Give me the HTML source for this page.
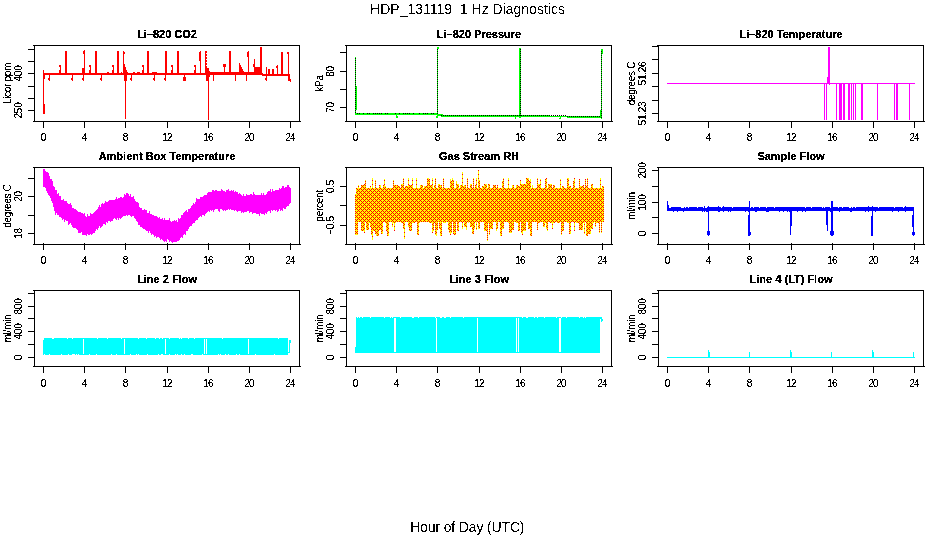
<!DOCTYPE html>
<html lang="en"><head><meta charset="utf-8"><title>HDP_131119 1 Hz Diagnostics</title>
<style>
html,body{margin:0;padding:0;background:#fff;}
body{width:936px;height:540px;overflow:hidden;}
svg{display:block;}
text{font-family:"Liberation Sans", "DejaVu Sans", sans-serif;fill:#000;}
.t{font-size:10px;letter-spacing:-0.3px;}
.h{font-size:11px;font-weight:bold;}
.m{font-size:14px;}
</style></head><body>
<svg width="936" height="540" viewBox="0 0 936 540">
<defs><pattern id="rh" x="0" y="0" width="4" height="4" patternUnits="userSpaceOnUse"><rect width="4" height="4" fill="#ffff00"/><path fill="#ff0000" d="M0 0h1v1h-1zM2 2h1v1h-1zM1 1h1v1h-1zM3 3h1v1h-1zM1 3h1v1h-1zM3 1h1v1h-1z"/></pattern></defs>
<defs><filter id="bw" x="0" y="0" width="100%" height="100%" filterUnits="userSpaceOnUse" color-interpolation-filters="sRGB"><feComponentTransfer><feFuncA type="discrete" tableValues="0 0 1 1 1"/></feComponentTransfer></filter></defs>
<rect width="936" height="540" fill="#fff"/>
<defs><filter id="bw2" x="0" y="0" width="100%" height="100%" filterUnits="userSpaceOnUse" color-interpolation-filters="sRGB"><feComponentTransfer><feFuncA type="discrete" tableValues="0 0 0 1 1 1"/></feComponentTransfer></filter></defs>
<g filter="url(#bw2)">
<text class="m" x="467.5" y="14" text-anchor="middle" xml:space="preserve">HDP_131119  1 Hz Diagnostics</text>
<text class="m" x="467.3" y="532" text-anchor="middle" style="letter-spacing:-0.15px">Hour of Day (UTC)</text>
</g>
<g filter="url(#bw)">
<text class="t" x="43.5" y="141" text-anchor="middle">0</text>
<text class="t" x="84.5" y="141" text-anchor="middle">4</text>
<text class="t" x="125.5" y="141" text-anchor="middle">8</text>
<text class="t" x="167.1" y="141" text-anchor="middle" style="letter-spacing:-0.7px">12</text>
<text class="t" x="208.1" y="141" text-anchor="middle" style="letter-spacing:-0.7px">16</text>
<text class="t" x="249.1" y="141" text-anchor="middle" style="letter-spacing:-0.7px">20</text>
<text class="t" x="290.1" y="141" text-anchor="middle" style="letter-spacing:-0.7px">24</text>
<text class="t" transform="translate(22,73.5) rotate(-90)" text-anchor="middle">400</text>
<text class="t" transform="translate(22,110.5) rotate(-90)" text-anchor="middle">250</text>
<text class="t" transform="translate(10.5,83.5) rotate(-90)" text-anchor="middle">Licor ppm</text>
<text class="t" x="355.5" y="141" text-anchor="middle">0</text>
<text class="t" x="396.5" y="141" text-anchor="middle">4</text>
<text class="t" x="437.5" y="141" text-anchor="middle">8</text>
<text class="t" x="479.1" y="141" text-anchor="middle" style="letter-spacing:-0.7px">12</text>
<text class="t" x="520.1" y="141" text-anchor="middle" style="letter-spacing:-0.7px">16</text>
<text class="t" x="561.1" y="141" text-anchor="middle" style="letter-spacing:-0.7px">20</text>
<text class="t" x="602.1" y="141" text-anchor="middle" style="letter-spacing:-0.7px">24</text>
<text class="t" transform="translate(334,71.5) rotate(-90)" text-anchor="middle">80</text>
<text class="t" transform="translate(334,107.5) rotate(-90)" text-anchor="middle">70</text>
<text class="t" transform="translate(322.5,83.5) rotate(-90)" text-anchor="middle">kPa</text>
<text class="t" x="667.5" y="141" text-anchor="middle">0</text>
<text class="t" x="708.5" y="141" text-anchor="middle">4</text>
<text class="t" x="749.5" y="141" text-anchor="middle">8</text>
<text class="t" x="791.1" y="141" text-anchor="middle" style="letter-spacing:-0.7px">12</text>
<text class="t" x="832.1" y="141" text-anchor="middle" style="letter-spacing:-0.7px">16</text>
<text class="t" x="873.1" y="141" text-anchor="middle" style="letter-spacing:-0.7px">20</text>
<text class="t" x="914.1" y="141" text-anchor="middle" style="letter-spacing:-0.7px">24</text>
<text class="t" transform="translate(646,73.5) rotate(-90)" text-anchor="middle">51.26</text>
<text class="t" transform="translate(646,113.5) rotate(-90)" text-anchor="middle">51.23</text>
<text class="t" transform="translate(634.5,83.5) rotate(-90)" text-anchor="middle">degrees C</text>
<text class="t" x="43.5" y="264" text-anchor="middle">0</text>
<text class="t" x="84.5" y="264" text-anchor="middle">4</text>
<text class="t" x="125.5" y="264" text-anchor="middle">8</text>
<text class="t" x="167.1" y="264" text-anchor="middle" style="letter-spacing:-0.7px">12</text>
<text class="t" x="208.1" y="264" text-anchor="middle" style="letter-spacing:-0.7px">16</text>
<text class="t" x="249.1" y="264" text-anchor="middle" style="letter-spacing:-0.7px">20</text>
<text class="t" x="290.1" y="264" text-anchor="middle" style="letter-spacing:-0.7px">24</text>
<text class="t" transform="translate(22,196.5) rotate(-90)" text-anchor="middle">20</text>
<text class="t" transform="translate(22,233.5) rotate(-90)" text-anchor="middle">18</text>
<text class="t" transform="translate(10.5,206.0) rotate(-90)" text-anchor="middle">degrees C</text>
<text class="t" x="355.5" y="264" text-anchor="middle">0</text>
<text class="t" x="396.5" y="264" text-anchor="middle">4</text>
<text class="t" x="437.5" y="264" text-anchor="middle">8</text>
<text class="t" x="479.1" y="264" text-anchor="middle" style="letter-spacing:-0.7px">12</text>
<text class="t" x="520.1" y="264" text-anchor="middle" style="letter-spacing:-0.7px">16</text>
<text class="t" x="561.1" y="264" text-anchor="middle" style="letter-spacing:-0.7px">20</text>
<text class="t" x="602.1" y="264" text-anchor="middle" style="letter-spacing:-0.7px">24</text>
<text class="t" transform="translate(334,186.5) rotate(-90)" text-anchor="middle">0.5</text>
<text class="t" transform="translate(334,225.5) rotate(-90)" text-anchor="middle">−0.5</text>
<text class="t" transform="translate(322.5,206.0) rotate(-90)" text-anchor="middle">percent</text>
<text class="t" x="667.5" y="264" text-anchor="middle">0</text>
<text class="t" x="708.5" y="264" text-anchor="middle">4</text>
<text class="t" x="749.5" y="264" text-anchor="middle">8</text>
<text class="t" x="791.1" y="264" text-anchor="middle" style="letter-spacing:-0.7px">12</text>
<text class="t" x="832.1" y="264" text-anchor="middle" style="letter-spacing:-0.7px">16</text>
<text class="t" x="873.1" y="264" text-anchor="middle" style="letter-spacing:-0.7px">20</text>
<text class="t" x="914.1" y="264" text-anchor="middle" style="letter-spacing:-0.7px">24</text>
<text class="t" transform="translate(646,170.5) rotate(-90)" text-anchor="middle">200</text>
<text class="t" transform="translate(646,202.5) rotate(-90)" text-anchor="middle">100</text>
<text class="t" transform="translate(646,233.5) rotate(-90)" text-anchor="middle">0</text>
<text class="t" transform="translate(634.5,206.0) rotate(-90)" text-anchor="middle">ml/min</text>
<text class="t" x="43.5" y="387" text-anchor="middle">0</text>
<text class="t" x="84.5" y="387" text-anchor="middle">4</text>
<text class="t" x="125.5" y="387" text-anchor="middle">8</text>
<text class="t" x="167.1" y="387" text-anchor="middle" style="letter-spacing:-0.7px">12</text>
<text class="t" x="208.1" y="387" text-anchor="middle" style="letter-spacing:-0.7px">16</text>
<text class="t" x="249.1" y="387" text-anchor="middle" style="letter-spacing:-0.7px">20</text>
<text class="t" x="290.1" y="387" text-anchor="middle" style="letter-spacing:-0.7px">24</text>
<text class="t" transform="translate(22,306.5) rotate(-90)" text-anchor="middle">800</text>
<text class="t" transform="translate(22,331.5) rotate(-90)" text-anchor="middle">400</text>
<text class="t" transform="translate(22,357.5) rotate(-90)" text-anchor="middle">0</text>
<text class="t" transform="translate(10.5,328.5) rotate(-90)" text-anchor="middle">ml/min</text>
<text class="t" x="355.5" y="387" text-anchor="middle">0</text>
<text class="t" x="396.5" y="387" text-anchor="middle">4</text>
<text class="t" x="437.5" y="387" text-anchor="middle">8</text>
<text class="t" x="479.1" y="387" text-anchor="middle" style="letter-spacing:-0.7px">12</text>
<text class="t" x="520.1" y="387" text-anchor="middle" style="letter-spacing:-0.7px">16</text>
<text class="t" x="561.1" y="387" text-anchor="middle" style="letter-spacing:-0.7px">20</text>
<text class="t" x="602.1" y="387" text-anchor="middle" style="letter-spacing:-0.7px">24</text>
<text class="t" transform="translate(334,306.5) rotate(-90)" text-anchor="middle">800</text>
<text class="t" transform="translate(334,331.5) rotate(-90)" text-anchor="middle">400</text>
<text class="t" transform="translate(334,357.5) rotate(-90)" text-anchor="middle">0</text>
<text class="t" transform="translate(322.5,328.5) rotate(-90)" text-anchor="middle">ml/min</text>
<text class="t" x="667.5" y="387" text-anchor="middle">0</text>
<text class="t" x="708.5" y="387" text-anchor="middle">4</text>
<text class="t" x="749.5" y="387" text-anchor="middle">8</text>
<text class="t" x="791.1" y="387" text-anchor="middle" style="letter-spacing:-0.7px">12</text>
<text class="t" x="832.1" y="387" text-anchor="middle" style="letter-spacing:-0.7px">16</text>
<text class="t" x="873.1" y="387" text-anchor="middle" style="letter-spacing:-0.7px">20</text>
<text class="t" x="914.1" y="387" text-anchor="middle" style="letter-spacing:-0.7px">24</text>
<text class="t" transform="translate(646,306.5) rotate(-90)" text-anchor="middle">800</text>
<text class="t" transform="translate(646,331.5) rotate(-90)" text-anchor="middle">400</text>
<text class="t" transform="translate(646,357.5) rotate(-90)" text-anchor="middle">0</text>
<text class="t" transform="translate(634.5,328.5) rotate(-90)" text-anchor="middle">ml/min</text>
</g>
<defs><filter id="bw3" x="0" y="0" width="100%" height="100%" filterUnits="userSpaceOnUse" color-interpolation-filters="sRGB"><feComponentTransfer><feFuncA type="discrete" tableValues="0 0 1 1 1 1 1"/></feComponentTransfer></filter></defs>
<g filter="url(#bw3)">
<text class="h" x="167.0" y="37.6" text-anchor="middle">Li–820 CO2</text>
<text class="h" x="479.0" y="37.6" text-anchor="middle">Li–820 Pressure</text>
<text class="h" x="791.0" y="37.6" text-anchor="middle">Li–820 Temperature</text>
<text class="h" x="167.0" y="159.6" text-anchor="middle">Ambient Box Temperature</text>
<text class="h" x="479.0" y="159.6" text-anchor="middle">Gas Stream RH</text>
<text class="h" x="791.0" y="159.6" text-anchor="middle">Sample Flow</text>
<text class="h" x="167.0" y="282.6" text-anchor="middle">Line 2 Flow</text>
<text class="h" x="479.0" y="282.6" text-anchor="middle">Line 3 Flow</text>
<text class="h" x="791.0" y="282.6" text-anchor="middle">Line 4 (LT) Flow</text>
</g>
<g shape-rendering="crispEdges">
<path fill="#ff0000" d="M43 73h220v2h-220zM262 74h28v2h-28zM210 72h52v3h-52zM288 74h2v7h-2zM290 79h1v3h-1zM43 70h1v44h-1zM44 104h1v10h-1zM44 75h1v4h-1zM125 67h1v52h-1zM123 51h1v24h-1zM124 52h1v2h-1zM124 64h1v17h-1zM126 70h1v11h-1zM127 72h1v3h-1zM208 68h1v52h-1zM205 51h1v24h-1zM206 51h1v2h-1zM206 54h1v2h-1zM206 57h1v2h-1zM206 60h1v2h-1zM206 63h1v2h-1zM206 66h1v2h-1zM206 69h1v2h-1zM206 68h3v13h-3zM209 71h1v6h-1zM65 51h2v23h-2zM95 51h2v23h-2zM117 51h2v23h-2zM147 51h2v23h-2zM165 51h2v23h-2zM177 51h2v23h-2zM200 51h1v23h-1zM229 51h2v23h-2zM248 51h1v23h-1zM84 50h1v24h-1zM83 51h1v3h-1zM82 68h2v6h-2zM147 51h1v2h-1zM199 52h1v9h-1zM247 52h1v5h-1zM260 47h2v27h-2zM281 52h2v23h-2zM288 52h1v23h-1zM287 52h1v2h-1zM60 65h1v9h-1zM90 65h1v9h-1zM113 65h1v9h-1zM143 65h1v9h-1zM172 65h1v9h-1zM195 65h1v9h-1zM277 65h1v9h-1zM59 65h1v2h-1zM59 70h1v4h-1zM89 65h1v2h-1zM89 70h1v4h-1zM112 65h1v2h-1zM112 70h1v4h-1zM142 65h1v2h-1zM142 70h1v4h-1zM171 65h1v2h-1zM171 70h1v4h-1zM194 65h1v2h-1zM194 70h1v4h-1zM224 66h1v8h-1zM223 64h3v3h-3zM239 63h1v11h-1zM240 65h1v9h-1zM241 67h1v7h-1zM242 69h1v5h-1zM243 71h1v3h-1zM254 59h1v15h-1zM253 64h1v3h-1zM254 67h6v7h-6zM266 67h1v7h-1zM268 69h2v5h-2zM272 69h2v5h-2zM276 66h1v2h-1zM107 72h2v1h-2zM121 72h1v1h-1zM133 72h2v1h-2zM137 72h3v1h-3zM152 72h5v1h-5zM217 72h1v1h-1zM228 72h4v1h-4zM49 75h1v6h-1zM72 75h1v6h-1zM83 75h1v6h-1zM101 75h1v6h-1zM131 75h1v6h-1zM154 75h1v6h-1zM165 75h1v6h-1zM184 75h1v6h-1zM213 75h1v6h-1zM235 75h1v6h-1zM246 75h1v6h-1zM266 75h1v6h-1zM48 78h1v2h-1zM71 78h1v2h-1zM82 78h1v2h-1zM100 78h1v2h-1zM130 78h1v2h-1zM153 78h1v2h-1zM164 78h1v2h-1zM183 78h1v2h-1zM265 78h1v2h-1zM183 77h3v4h-3z"/>
<path fill="#00ff00" d="M355 113h83v2h-83zM437 114h6v2h-6zM441 115h108v2h-108zM548 116h19v1h-19zM567 116h35v2h-35zM355 57h1v58h-1zM356 86h1v24h-1zM437 47h1v71h-1zM438 47h1v2h-1zM436 116h1v2h-1zM519 48h2v70h-2zM601 49h1v70h-1zM602 49h1v5h-1zM600 110h1v8h-1zM396 115h1v3h-1zM397 116h1v2h-1zM515 117h1v2h-1zM560 117h1v2h-1zM559 118h1v1h-1z"/>
<path fill="#000000" d="M357 113h1v1h-1zM359 113h1v1h-1zM363 113h1v1h-1zM367 113h1v1h-1zM369 113h1v1h-1zM373 113h1v1h-1zM375 113h1v1h-1zM377 113h1v1h-1zM379 113h1v1h-1zM381 113h1v1h-1zM385 113h1v1h-1zM387 113h1v1h-1zM395 113h1v1h-1zM399 113h1v1h-1zM403 113h1v1h-1zM405 113h1v1h-1zM407 113h1v1h-1zM409 113h1v1h-1zM413 113h1v1h-1zM419 113h1v1h-1zM423 113h1v1h-1zM425 113h1v1h-1zM427 113h1v1h-1zM431 113h1v1h-1zM433 113h1v1h-1zM441 115h1v1h-1zM443 115h1v1h-1zM445 115h1v1h-1zM447 115h1v1h-1zM449 115h1v1h-1zM451 115h1v1h-1zM453 115h1v1h-1zM455 115h1v1h-1zM457 115h1v1h-1zM459 115h1v1h-1zM461 115h1v1h-1zM463 115h1v1h-1zM465 115h1v1h-1zM467 115h1v1h-1zM469 115h1v1h-1zM471 115h1v1h-1zM473 115h1v1h-1zM475 115h1v1h-1zM477 115h1v1h-1zM479 115h1v1h-1zM481 115h1v1h-1zM483 115h1v1h-1zM485 115h1v1h-1zM487 115h1v1h-1zM489 115h1v1h-1zM491 115h1v1h-1zM493 115h1v1h-1zM495 115h1v1h-1zM497 115h1v1h-1zM499 115h1v1h-1zM501 115h1v1h-1zM503 115h1v1h-1zM505 115h1v1h-1zM507 115h1v1h-1zM509 115h1v1h-1zM511 115h1v1h-1zM513 115h1v1h-1zM515 115h1v1h-1zM517 115h1v1h-1zM519 115h1v1h-1zM521 115h1v1h-1zM523 115h1v1h-1zM525 115h1v1h-1zM527 115h1v1h-1zM529 115h1v1h-1zM531 115h1v1h-1zM533 115h1v1h-1zM535 115h1v1h-1zM537 115h1v1h-1zM539 115h1v1h-1zM541 115h1v1h-1zM543 115h1v1h-1zM545 115h1v1h-1zM547 115h1v1h-1zM549 115h1v1h-1zM551 115h1v1h-1zM553 115h1v1h-1zM555 115h1v1h-1zM557 115h1v1h-1zM559 115h1v1h-1zM561 115h1v1h-1zM563 115h1v1h-1zM565 115h1v1h-1zM567 116h1v1h-1zM569 116h1v1h-1zM571 116h1v1h-1zM573 116h1v1h-1zM575 116h1v1h-1zM577 116h1v1h-1zM579 116h1v1h-1zM581 116h1v1h-1zM583 116h1v1h-1zM585 116h1v1h-1zM587 116h1v1h-1zM589 116h1v1h-1zM591 116h1v1h-1zM593 116h1v1h-1zM595 116h1v1h-1zM597 116h1v1h-1zM599 116h1v1h-1zM355 58h1v1h-1zM355 60h1v1h-1zM355 62h1v1h-1zM355 64h1v1h-1zM355 66h1v1h-1zM355 68h1v1h-1zM355 70h1v1h-1zM355 72h1v1h-1zM355 74h1v1h-1zM355 76h1v1h-1zM355 78h1v1h-1zM355 80h1v1h-1zM355 82h1v1h-1zM355 84h1v1h-1zM355 86h1v1h-1zM355 88h1v1h-1zM355 90h1v1h-1zM355 92h1v1h-1zM355 94h1v1h-1zM355 96h1v1h-1zM355 98h1v1h-1zM355 100h1v1h-1zM355 102h1v1h-1zM355 104h1v1h-1zM355 106h1v1h-1zM355 108h1v1h-1zM355 110h1v1h-1zM355 112h1v1h-1zM437 49h1v1h-1zM437 51h1v1h-1zM437 53h1v1h-1zM437 55h1v1h-1zM437 57h1v1h-1zM437 59h1v1h-1zM437 61h1v1h-1zM437 63h1v1h-1zM437 65h1v1h-1zM437 67h1v1h-1zM437 69h1v1h-1zM437 71h1v1h-1zM437 73h1v1h-1zM437 75h1v1h-1zM437 77h1v1h-1zM437 79h1v1h-1zM437 81h1v1h-1zM437 83h1v1h-1zM437 85h1v1h-1zM437 87h1v1h-1zM437 89h1v1h-1zM437 91h1v1h-1zM437 93h1v1h-1zM437 95h1v1h-1zM437 97h1v1h-1zM437 99h1v1h-1zM437 101h1v1h-1zM437 103h1v1h-1zM437 105h1v1h-1zM437 107h1v1h-1zM437 109h1v1h-1zM437 111h1v1h-1zM437 113h1v1h-1zM520 49h1v1h-1zM520 51h1v1h-1zM520 53h1v1h-1zM520 55h1v1h-1zM520 57h1v1h-1zM520 59h1v1h-1zM520 61h1v1h-1zM520 63h1v1h-1zM520 65h1v1h-1zM520 67h1v1h-1zM520 69h1v1h-1zM520 71h1v1h-1zM520 73h1v1h-1zM520 75h1v1h-1zM520 77h1v1h-1zM520 79h1v1h-1zM520 81h1v1h-1zM520 83h1v1h-1zM520 85h1v1h-1zM520 87h1v1h-1zM520 89h1v1h-1zM520 91h1v1h-1zM520 93h1v1h-1zM520 95h1v1h-1zM520 97h1v1h-1zM520 99h1v1h-1zM520 101h1v1h-1zM520 103h1v1h-1zM520 105h1v1h-1zM520 107h1v1h-1zM520 109h1v1h-1zM520 111h1v1h-1zM520 113h1v1h-1zM520 115h1v1h-1zM601 51h1v1h-1zM601 53h1v1h-1zM601 55h1v1h-1zM601 57h1v1h-1zM601 59h1v1h-1zM601 61h1v1h-1zM601 63h1v1h-1zM601 65h1v1h-1zM601 67h1v1h-1zM601 69h1v1h-1zM601 71h1v1h-1zM601 73h1v1h-1zM601 75h1v1h-1zM601 77h1v1h-1zM601 79h1v1h-1zM601 81h1v1h-1zM601 83h1v1h-1zM601 85h1v1h-1zM601 87h1v1h-1zM601 89h1v1h-1zM601 91h1v1h-1zM601 93h1v1h-1zM601 95h1v1h-1zM601 97h1v1h-1zM601 99h1v1h-1zM601 101h1v1h-1zM601 103h1v1h-1zM601 105h1v1h-1zM601 107h1v1h-1zM601 109h1v1h-1zM601 111h1v1h-1zM601 113h1v1h-1zM601 115h1v1h-1zM601 117h1v1h-1z"/>
<path fill="#ff00ff" d="M667 83h248v1h-248zM828 47h2v37h-2zM827 77h1v7h-1zM829 83h1v2h-1zM824 84h1v36h-1zM826 84h1v36h-1zM836 84h1v36h-1zM839 84h3v36h-3zM843 84h2v36h-2zM848 84h2v36h-2zM851 84h1v36h-1zM853 84h1v36h-1zM855 84h1v36h-1zM861 84h2v36h-2zM877 84h1v36h-1zM894 84h1v36h-1zM896 84h2v36h-2zM909 84h1v36h-1z"/>
<path fill="#ff00ff" d="M43 169h1v18h-1zM44 169h1v18h-1zM45 171h1v17h-1zM46 172h1v19h-1zM47 172h1v21h-1zM48 173h1v22h-1zM49 176h1v20h-1zM50 179h1v19h-1zM51 179h1v22h-1zM52 181h1v22h-1zM53 186h1v21h-1zM54 187h1v24h-1zM55 190h1v25h-1zM56 190h1v23h-1zM57 194h1v21h-1zM58 193h1v22h-1zM59 196h1v21h-1zM60 196h1v21h-1zM61 200h1v18h-1zM62 200h1v20h-1zM63 199h1v20h-1zM64 201h1v21h-1zM65 201h1v19h-1zM66 201h1v20h-1zM67 203h1v18h-1zM68 204h1v21h-1zM69 204h1v20h-1zM70 203h1v20h-1zM71 205h1v20h-1zM72 208h1v19h-1zM73 208h1v20h-1zM74 209h1v19h-1zM75 209h1v19h-1zM76 210h1v19h-1zM77 211h1v19h-1zM78 212h1v21h-1zM79 212h1v21h-1zM80 212h1v21h-1zM81 213h1v19h-1zM82 213h1v22h-1zM83 214h1v21h-1zM84 213h1v22h-1zM85 216h1v19h-1zM86 217h1v19h-1zM87 214h1v20h-1zM88 216h1v19h-1zM89 216h1v19h-1zM90 213h1v21h-1zM91 214h1v21h-1zM92 214h1v20h-1zM93 213h1v20h-1zM94 212h1v21h-1zM95 211h1v20h-1zM96 210h1v19h-1zM97 209h1v21h-1zM98 207h1v21h-1zM99 205h1v21h-1zM100 207h1v21h-1zM101 204h1v23h-1zM102 203h1v23h-1zM103 204h1v20h-1zM104 203h1v21h-1zM105 201h1v24h-1zM106 202h1v20h-1zM107 202h1v21h-1zM108 201h1v20h-1zM109 200h1v21h-1zM110 200h1v22h-1zM111 200h1v21h-1zM112 200h1v21h-1zM113 200h1v19h-1zM114 200h1v18h-1zM115 199h1v20h-1zM116 197h1v23h-1zM117 199h1v19h-1zM118 198h1v22h-1zM119 198h1v20h-1zM120 197h1v22h-1zM121 197h1v21h-1zM122 198h1v19h-1zM123 197h1v19h-1zM124 194h1v22h-1zM125 195h1v21h-1zM126 193h1v22h-1zM127 193h1v23h-1zM128 194h1v21h-1zM129 196h1v19h-1zM130 194h1v22h-1zM131 197h1v20h-1zM132 197h1v19h-1zM133 196h1v20h-1zM134 199h1v19h-1zM135 201h1v18h-1zM136 202h1v19h-1zM137 202h1v20h-1zM138 203h1v22h-1zM139 207h1v18h-1zM140 208h1v19h-1zM141 208h1v19h-1zM142 210h1v18h-1zM143 210h1v19h-1zM144 209h1v20h-1zM145 210h1v20h-1zM146 210h1v21h-1zM147 213h1v18h-1zM148 213h1v20h-1zM149 211h1v20h-1zM150 214h1v19h-1zM151 214h1v21h-1zM152 215h1v19h-1zM153 215h1v20h-1zM154 216h1v21h-1zM155 216h1v20h-1zM156 216h1v22h-1zM157 217h1v20h-1zM158 218h1v19h-1zM159 217h1v21h-1zM160 219h1v21h-1zM161 219h1v20h-1zM162 218h1v22h-1zM163 220h1v21h-1zM164 218h1v24h-1zM165 220h1v21h-1zM166 220h1v22h-1zM167 220h1v19h-1zM168 220h1v20h-1zM169 218h1v24h-1zM170 221h1v20h-1zM171 222h1v20h-1zM172 221h1v22h-1zM173 221h1v21h-1zM174 220h1v22h-1zM175 221h1v21h-1zM176 220h1v22h-1zM177 222h1v19h-1zM178 218h1v23h-1zM179 219h1v21h-1zM180 218h1v20h-1zM181 215h1v22h-1zM182 215h1v23h-1zM183 213h1v22h-1zM184 212h1v22h-1zM185 211h1v24h-1zM186 210h1v21h-1zM187 212h1v19h-1zM188 209h1v20h-1zM189 209h1v18h-1zM190 208h1v18h-1zM191 206h1v20h-1zM192 205h1v19h-1zM193 203h1v20h-1zM194 204h1v19h-1zM195 202h1v19h-1zM196 198h1v22h-1zM197 199h1v21h-1zM198 199h1v19h-1zM199 199h1v18h-1zM200 197h1v19h-1zM201 197h1v20h-1zM202 197h1v18h-1zM203 196h1v19h-1zM204 195h1v21h-1zM205 195h1v19h-1zM206 195h1v18h-1zM207 193h1v19h-1zM208 192h1v19h-1zM209 192h1v20h-1zM210 192h1v18h-1zM211 192h1v19h-1zM212 190h1v20h-1zM213 190h1v22h-1zM214 191h1v19h-1zM215 190h1v19h-1zM216 190h1v19h-1zM217 191h1v18h-1zM218 191h1v20h-1zM219 191h1v21h-1zM220 191h1v18h-1zM221 189h1v20h-1zM222 190h1v20h-1zM223 191h1v20h-1zM224 191h1v19h-1zM225 192h1v19h-1zM226 190h1v20h-1zM227 190h1v20h-1zM228 189h1v20h-1zM229 191h1v19h-1zM230 191h1v18h-1zM231 190h1v20h-1zM232 191h1v19h-1zM233 190h1v20h-1zM234 192h1v19h-1zM235 191h1v19h-1zM236 192h1v19h-1zM237 192h1v20h-1zM238 194h1v17h-1zM239 193h1v18h-1zM240 194h1v17h-1zM241 195h1v18h-1zM242 196h1v16h-1zM243 194h1v19h-1zM244 196h1v16h-1zM245 196h1v16h-1zM246 194h1v18h-1zM247 195h1v16h-1zM248 195h1v16h-1zM249 195h1v18h-1zM250 194h1v18h-1zM251 194h1v18h-1zM252 195h1v19h-1zM253 192h1v21h-1zM254 194h1v19h-1zM255 195h1v18h-1zM256 195h1v19h-1zM257 195h1v19h-1zM258 195h1v19h-1zM259 195h1v21h-1zM260 195h1v18h-1zM261 193h1v21h-1zM262 195h1v19h-1zM263 193h1v21h-1zM264 195h1v20h-1zM265 195h1v18h-1zM266 194h1v20h-1zM267 192h1v20h-1zM268 191h1v20h-1zM269 191h1v20h-1zM270 189h1v24h-1zM271 192h1v18h-1zM272 189h1v22h-1zM273 191h1v19h-1zM274 191h1v19h-1zM275 190h1v21h-1zM276 190h1v20h-1zM277 190h1v22h-1zM278 190h1v21h-1zM279 188h1v21h-1zM280 189h1v22h-1zM281 188h1v22h-1zM282 186h1v25h-1zM283 186h1v22h-1zM284 188h1v21h-1zM285 187h1v22h-1zM286 187h1v20h-1zM287 185h1v21h-1zM288 185h1v21h-1zM289 187h1v17h-1zM290 188h1v15h-1z"/>
<path fill="url(#rh)" d="M355 194h2v41h-2zM357 188h1v47h-1zM358 185h1v37h-1zM359 188h2v34h-2zM361 185h3v46h-3zM364 184h1v49h-1zM365 180h1v41h-1zM366 188h3v42h-3zM369 188h1v35h-1zM370 186h1v41h-1zM371 188h1v47h-1zM372 178h1v62h-1zM373 188h2v43h-2zM375 180h1v54h-1zM376 188h3v48h-3zM379 185h2v45h-2zM381 188h2v46h-2zM383 185h1v37h-1zM384 179h1v42h-1zM385 186h1v37h-1zM386 188h1v43h-1zM387 188h2v48h-2zM389 188h2v33h-2zM391 188h1v33h-1zM392 188h1v39h-1zM393 180h1v43h-1zM394 185h1v46h-1zM395 185h1v38h-1zM396 185h2v36h-2zM398 186h2v36h-2zM400 188h1v34h-1zM401 184h2v39h-2zM403 178h1v51h-1zM404 188h1v51h-1zM405 186h3v35h-3zM408 178h1v49h-1zM409 185h3v46h-3zM412 178h1v45h-1zM413 188h2v35h-2zM415 188h1v34h-1zM416 178h1v43h-1zM417 188h2v47h-2zM419 188h1v35h-1zM420 185h3v37h-3zM423 188h1v34h-1zM424 186h3v36h-3zM427 178h1v43h-1zM428 178h1v43h-1zM429 179h1v44h-1zM430 185h2v38h-2zM432 178h1v55h-1zM433 188h1v43h-1zM434 185h1v38h-1zM435 178h1v57h-1zM436 188h1v48h-1zM437 188h1v42h-1zM438 184h1v38h-1zM439 184h1v45h-1zM440 185h2v51h-2zM442 188h1v34h-1zM443 178h1v45h-1zM444 188h2v35h-2zM446 188h2v33h-2zM448 188h1v42h-1zM449 188h1v45h-1zM450 179h1v56h-1zM451 181h1v52h-1zM452 178h1v44h-1zM453 180h1v54h-1zM454 188h2v47h-2zM456 181h1v41h-1zM457 184h2v47h-2zM459 188h1v33h-1zM460 185h2v37h-2zM462 172h1v57h-1zM463 186h1v35h-1zM464 185h2v42h-2zM466 188h1v42h-1zM467 178h1v43h-1zM468 188h1v35h-1zM469 188h1v33h-1zM470 184h2v43h-2zM472 188h1v46h-1zM473 178h1v56h-1zM474 188h1v41h-1zM475 185h1v37h-1zM476 178h1v52h-1zM477 188h1v33h-1zM478 170h1v59h-1zM479 180h1v49h-1zM480 188h2v34h-2zM482 186h2v36h-2zM484 184h3v47h-3zM487 188h1v53h-1zM488 184h1v39h-1zM489 184h1v51h-1zM490 188h3v41h-3zM493 185h1v36h-1zM494 185h2v36h-2zM496 188h1v43h-1zM497 185h1v44h-1zM498 188h1v33h-1zM499 188h1v33h-1zM500 188h1v48h-1zM501 188h1v48h-1zM502 181h1v48h-1zM503 178h1v51h-1zM504 188h2v34h-2zM506 188h2v33h-2zM508 178h1v45h-1zM509 188h3v45h-3zM512 185h2v45h-2zM514 188h2v34h-2zM516 185h2v38h-2zM518 186h2v45h-2zM520 180h1v41h-1zM521 184h1v49h-1zM522 184h1v51h-1zM523 184h3v47h-3zM526 178h1v43h-1zM527 178h1v44h-1zM528 178h1v51h-1zM529 181h1v48h-1zM530 179h1v57h-1zM531 188h1v48h-1zM532 185h1v36h-1zM533 188h1v34h-1zM534 188h3v34h-3zM537 178h1v52h-1zM538 184h2v39h-2zM540 179h1v43h-1zM541 188h2v33h-2zM543 188h2v39h-2zM545 179h1v44h-1zM546 178h1v51h-1zM547 188h1v43h-1zM548 184h2v37h-2zM550 184h2v39h-2zM552 188h1v41h-1zM553 185h2v38h-2zM555 188h2v33h-2zM557 188h3v35h-3zM560 179h1v43h-1zM561 188h1v47h-1zM562 186h2v45h-2zM564 188h1v33h-1zM565 188h2v33h-2zM567 178h1v45h-1zM568 178h1v45h-1zM569 186h2v48h-2zM571 188h2v33h-2zM573 181h1v41h-1zM574 178h1v53h-1zM575 188h1v33h-1zM576 188h3v35h-3zM579 179h1v51h-1zM580 186h3v44h-3zM583 185h1v38h-1zM584 188h1v46h-1zM585 179h1v43h-1zM586 186h1v50h-1zM587 178h1v58h-1zM588 188h3v46h-3zM591 184h2v45h-2zM593 188h1v35h-1zM594 188h1v33h-1zM595 188h1v39h-1zM596 188h3v35h-3zM599 188h1v45h-1zM600 178h1v43h-1zM601 188h1v45h-1zM602 186h2v35h-2zM356 188h248v34h-248z"/>
<path fill="#0000ff" d="M667 208h247v3h-247zM667 207h1v1h-1zM668 207h1v1h-1zM671 207h1v1h-1zM672 207h1v1h-1zM673 207h1v1h-1zM673 211h1v1h-1zM674 207h1v1h-1zM675 207h1v1h-1zM676 207h1v1h-1zM677 207h1v1h-1zM677 211h1v1h-1zM678 207h1v1h-1zM679 207h1v1h-1zM680 207h1v1h-1zM683 211h1v1h-1zM684 207h1v1h-1zM686 207h1v1h-1zM687 207h1v1h-1zM689 207h1v1h-1zM690 207h1v1h-1zM691 207h1v1h-1zM692 207h1v1h-1zM693 207h1v1h-1zM694 207h1v1h-1zM695 207h1v1h-1zM696 207h1v1h-1zM698 207h1v1h-1zM699 207h1v1h-1zM700 207h1v1h-1zM701 207h1v1h-1zM702 207h1v1h-1zM702 211h1v1h-1zM704 207h1v1h-1zM704 206h1v6h-1zM706 211h1v1h-1zM707 207h1v1h-1zM707 211h1v1h-1zM708 207h1v1h-1zM709 207h1v1h-1zM710 207h1v1h-1zM711 207h1v1h-1zM712 207h1v1h-1zM713 207h1v1h-1zM714 207h1v1h-1zM715 207h1v1h-1zM716 207h1v1h-1zM717 207h1v1h-1zM718 207h1v1h-1zM718 206h1v6h-1zM719 207h1v1h-1zM719 211h1v1h-1zM720 207h1v1h-1zM722 207h1v1h-1zM723 207h1v1h-1zM723 206h1v6h-1zM724 207h1v1h-1zM725 207h1v1h-1zM726 207h1v1h-1zM727 207h1v1h-1zM728 207h1v1h-1zM728 211h1v1h-1zM729 207h1v1h-1zM730 207h1v1h-1zM730 211h1v1h-1zM731 207h1v1h-1zM733 207h1v1h-1zM734 207h1v1h-1zM735 207h1v1h-1zM736 207h1v1h-1zM737 207h1v1h-1zM738 207h1v1h-1zM739 207h1v1h-1zM740 207h1v1h-1zM741 207h1v1h-1zM742 207h1v1h-1zM743 207h1v1h-1zM744 207h1v1h-1zM745 207h1v1h-1zM745 211h1v1h-1zM746 207h1v1h-1zM747 207h1v1h-1zM748 207h1v1h-1zM748 211h1v1h-1zM749 207h1v1h-1zM751 207h1v1h-1zM752 207h1v1h-1zM754 207h1v1h-1zM755 207h1v1h-1zM755 211h1v1h-1zM756 207h1v1h-1zM756 211h1v1h-1zM757 207h1v1h-1zM758 207h1v1h-1zM760 207h1v1h-1zM761 207h1v1h-1zM762 207h1v1h-1zM763 207h1v1h-1zM764 207h1v1h-1zM765 207h1v1h-1zM766 211h1v1h-1zM767 207h1v1h-1zM767 211h1v1h-1zM768 207h1v1h-1zM768 211h1v1h-1zM769 207h1v1h-1zM770 207h1v1h-1zM771 207h1v1h-1zM772 207h1v1h-1zM773 207h1v1h-1zM775 207h1v1h-1zM776 207h1v1h-1zM777 207h1v1h-1zM778 207h1v1h-1zM779 207h1v1h-1zM779 211h1v1h-1zM780 207h1v1h-1zM781 207h1v1h-1zM782 207h1v1h-1zM783 207h1v1h-1zM783 211h1v1h-1zM784 207h1v1h-1zM785 207h1v1h-1zM786 207h1v1h-1zM787 207h1v1h-1zM787 211h1v1h-1zM788 207h1v1h-1zM789 207h1v1h-1zM789 211h1v1h-1zM790 207h1v1h-1zM791 207h1v1h-1zM792 207h1v1h-1zM793 207h1v1h-1zM794 207h1v1h-1zM795 207h1v1h-1zM796 207h1v1h-1zM797 207h1v1h-1zM797 211h1v1h-1zM798 207h1v1h-1zM799 207h1v1h-1zM800 207h1v1h-1zM801 207h1v1h-1zM802 207h1v1h-1zM802 211h1v1h-1zM803 207h1v1h-1zM804 207h1v1h-1zM805 211h1v1h-1zM806 207h1v1h-1zM807 207h1v1h-1zM808 207h1v1h-1zM809 207h1v1h-1zM810 207h1v1h-1zM812 207h1v1h-1zM813 207h1v1h-1zM814 207h1v1h-1zM815 207h1v1h-1zM816 207h1v1h-1zM817 207h1v1h-1zM818 207h1v1h-1zM819 207h1v1h-1zM820 207h1v1h-1zM821 207h1v1h-1zM823 207h1v1h-1zM825 207h1v1h-1zM826 207h1v1h-1zM827 207h1v1h-1zM828 207h1v1h-1zM829 207h1v1h-1zM830 211h1v1h-1zM831 207h1v1h-1zM832 207h1v1h-1zM833 207h1v1h-1zM834 207h1v1h-1zM835 207h1v1h-1zM836 207h1v1h-1zM837 207h1v1h-1zM839 207h1v1h-1zM839 211h1v1h-1zM840 207h1v1h-1zM841 207h1v1h-1zM843 207h1v1h-1zM844 207h1v1h-1zM845 207h1v1h-1zM846 207h1v1h-1zM847 207h1v1h-1zM848 207h1v1h-1zM850 211h1v1h-1zM851 207h1v1h-1zM851 211h1v1h-1zM853 207h1v1h-1zM854 207h1v1h-1zM856 207h1v1h-1zM857 207h1v1h-1zM858 207h1v1h-1zM859 207h1v1h-1zM860 207h1v1h-1zM861 207h1v1h-1zM862 207h1v1h-1zM863 207h1v1h-1zM864 207h1v1h-1zM865 207h1v1h-1zM865 211h1v1h-1zM866 207h1v1h-1zM867 207h1v1h-1zM868 207h1v1h-1zM868 206h1v6h-1zM869 207h1v1h-1zM870 207h1v1h-1zM871 207h1v1h-1zM872 207h1v1h-1zM873 207h1v1h-1zM874 207h1v1h-1zM875 207h1v1h-1zM875 211h1v1h-1zM876 207h1v1h-1zM877 207h1v1h-1zM879 207h1v1h-1zM880 207h1v1h-1zM881 207h1v1h-1zM882 207h1v1h-1zM883 207h1v1h-1zM884 207h1v1h-1zM885 207h1v1h-1zM886 207h1v1h-1zM887 207h1v1h-1zM888 207h1v1h-1zM889 207h1v1h-1zM890 207h1v1h-1zM891 207h1v1h-1zM892 207h1v1h-1zM892 211h1v1h-1zM893 207h1v1h-1zM895 207h1v1h-1zM896 207h1v1h-1zM897 207h1v1h-1zM898 207h1v1h-1zM898 211h1v1h-1zM899 207h1v1h-1zM900 207h1v1h-1zM901 207h1v1h-1zM902 207h1v1h-1zM904 207h1v1h-1zM905 207h1v1h-1zM905 206h1v6h-1zM906 207h1v1h-1zM907 207h1v1h-1zM908 207h1v1h-1zM909 207h1v1h-1zM910 207h1v1h-1zM911 207h1v1h-1zM912 207h1v1h-1zM913 207h1v1h-1zM667 201h1v10h-1zM668 205h1v6h-1zM708 206h1v30h-1zM707 231h3v4h-3zM749 201h1v35h-1zM748 215h1v21h-1zM748 232h3v3h-3zM790 207h1v28h-1zM791 207h1v19h-1zM826 210h1v15h-1zM827 210h1v21h-1zM831 201h2v35h-2zM830 231h4v4h-4zM872 206h1v30h-1zM871 216h1v20h-1zM913 207h1v29h-1zM912 215h1v12h-1zM912 232h3v3h-3z"/>
<path fill="#00ffff" d="M43 338h245v17h-245zM288 352h1v1h-1zM289 340h1v13h-1zM290 340h1v3h-1z"/>
<path fill="#ffffff" d="M83 339h1v15h-1zM124 339h1v15h-1zM165 339h1v15h-1zM204 339h1v15h-1zM206 339h1v15h-1zM248 339h1v15h-1zM43 338h1v2h-1zM44 354h1v1h-1zM49 354h1v1h-1zM52 338h1v1h-1zM53 338h1v1h-1zM61 354h1v1h-1zM67 338h1v1h-1zM68 354h1v1h-1zM72 338h1v1h-1zM72 354h1v1h-1zM73 354h1v1h-1zM74 354h1v1h-1zM76 354h1v1h-1zM78 354h1v1h-1zM89 354h1v1h-1zM96 354h1v1h-1zM97 338h1v1h-1zM107 338h1v1h-1zM111 354h1v1h-1zM116 354h1v1h-1zM121 338h1v1h-1zM130 354h1v1h-1zM136 354h1v1h-1zM138 338h1v1h-1zM138 354h1v1h-1zM146 338h1v1h-1zM147 354h1v1h-1zM155 338h1v1h-1zM158 354h1v1h-1zM159 338h1v1h-1zM161 354h1v1h-1zM162 338h1v1h-1zM162 354h1v1h-1zM169 338h1v1h-1zM169 354h1v1h-1zM175 354h1v1h-1zM177 354h1v1h-1zM179 338h1v1h-1zM181 338h1v1h-1zM181 354h1v1h-1zM184 354h1v1h-1zM188 338h1v1h-1zM191 354h1v1h-1zM192 354h1v1h-1zM194 338h1v1h-1zM202 354h1v1h-1zM218 354h1v1h-1zM220 354h1v1h-1zM222 338h1v1h-1zM225 354h1v1h-1zM228 354h1v1h-1zM236 354h1v1h-1zM239 354h1v1h-1zM255 354h1v1h-1zM274 354h1v1h-1zM278 338h1v1h-1z"/>
<path fill="#00ffff" d="M356 317h244v36h-244zM355 347h1v6h-1zM600 317h2v2h-2zM601 319h1v3h-1zM602 319h1v2h-1z"/>
<path fill="#ffffff" d="M394 318h2v34h-2zM436 318h1v34h-1zM477 318h1v34h-1zM516 318h1v34h-1zM518 318h1v34h-1zM559 318h2v34h-2zM357 317h1v1h-1zM359 317h1v1h-1zM362 317h1v1h-1zM370 317h1v1h-1zM384 317h1v1h-1zM390 317h1v1h-1zM392 317h1v1h-1zM400 317h1v1h-1zM412 317h1v1h-1zM413 317h1v1h-1zM418 317h1v1h-1zM435 317h1v1h-1zM440 317h1v1h-1zM441 317h1v1h-1zM444 317h1v1h-1zM445 317h1v1h-1zM450 317h1v1h-1zM463 317h1v1h-1zM522 317h1v1h-1zM526 317h1v1h-1zM527 317h1v1h-1zM534 317h1v1h-1zM537 317h1v1h-1zM544 317h1v1h-1zM556 317h1v1h-1zM561 317h1v1h-1zM566 317h1v1h-1zM579 317h1v1h-1zM583 317h1v1h-1zM585 317h1v1h-1z"/>
<path fill="#00ffff" d="M667 357h248v1h-248zM708 350h1v8h-1zM709 352h1v6h-1zM749 352h1v6h-1zM790 350h1v8h-1zM791 352h1v6h-1zM831 352h1v6h-1zM872 350h1v8h-1zM873 352h1v6h-1zM913 352h1v6h-1z"/>
</g>
<g shape-rendering="crispEdges">
<rect x="34.5" y="45.5" width="265" height="76" fill="none" stroke="#000" stroke-width="1"/>
<rect x="33" y="45" width="1" height="1" fill="#000"/>
<rect x="33" y="121" width="1" height="1" fill="#000"/>
<rect x="300" y="121" width="1" height="1" fill="#000"/>
<path d="M43.5 122V128M84.5 122V128M125.5 122V128M167.5 122V128M208.5 122V128M249.5 122V128M290.5 122V128M28 49.5H34M28 61.5H34M28 73.5H34M28 86.5H34M28 98.5H34M28 110.5H34" stroke="#000" stroke-width="1" fill="none"/>
<rect x="346.5" y="45.5" width="265" height="76" fill="none" stroke="#000" stroke-width="1"/>
<rect x="345" y="45" width="1" height="1" fill="#000"/>
<rect x="345" y="121" width="1" height="1" fill="#000"/>
<rect x="612" y="121" width="1" height="1" fill="#000"/>
<path d="M355.5 122V128M396.5 122V128M437.5 122V128M479.5 122V128M520.5 122V128M561.5 122V128M602.5 122V128M340 52.5H346M340 71.5H346M340 89.5H346M340 107.5H346" stroke="#000" stroke-width="1" fill="none"/>
<rect x="658.5" y="45.5" width="265" height="76" fill="none" stroke="#000" stroke-width="1"/>
<rect x="657" y="45" width="1" height="1" fill="#000"/>
<rect x="657" y="121" width="1" height="1" fill="#000"/>
<rect x="924" y="121" width="1" height="1" fill="#000"/>
<path d="M667.5 122V128M708.5 122V128M749.5 122V128M791.5 122V128M832.5 122V128M873.5 122V128M914.5 122V128M652 46.5H658M652 59.5H658M652 73.5H658M652 86.5H658M652 100.5H658M652 113.5H658" stroke="#000" stroke-width="1" fill="none"/>
<rect x="34.5" y="167.5" width="265" height="77" fill="none" stroke="#000" stroke-width="1"/>
<rect x="33" y="167" width="1" height="1" fill="#000"/>
<rect x="33" y="244" width="1" height="1" fill="#000"/>
<rect x="300" y="244" width="1" height="1" fill="#000"/>
<path d="M43.5 243V250M84.5 243V250M125.5 243V250M167.5 243V250M208.5 243V250M249.5 243V250M290.5 243V250M28 178.5H34M28 196.5H34M28 215.5H34M28 233.5H34" stroke="#000" stroke-width="1" fill="none"/>
<rect x="346.5" y="167.5" width="265" height="77" fill="none" stroke="#000" stroke-width="1"/>
<rect x="345" y="167" width="1" height="1" fill="#000"/>
<rect x="345" y="244" width="1" height="1" fill="#000"/>
<rect x="612" y="244" width="1" height="1" fill="#000"/>
<path d="M355.5 243V250M396.5 243V250M437.5 243V250M479.5 243V250M520.5 243V250M561.5 243V250M602.5 243V250M340 186.5H346M340 205.5H346M340 225.5H346" stroke="#000" stroke-width="1" fill="none"/>
<rect x="658.5" y="167.5" width="265" height="77" fill="none" stroke="#000" stroke-width="1"/>
<rect x="657" y="167" width="1" height="1" fill="#000"/>
<rect x="657" y="244" width="1" height="1" fill="#000"/>
<rect x="924" y="244" width="1" height="1" fill="#000"/>
<path d="M667.5 243V250M708.5 243V250M749.5 243V250M791.5 243V250M832.5 243V250M873.5 243V250M914.5 243V250M652 170.5H658M652 186.5H658M652 202.5H658M652 217.5H658M652 233.5H658" stroke="#000" stroke-width="1" fill="none"/>
<rect x="34.5" y="290.5" width="265" height="76" fill="none" stroke="#000" stroke-width="1"/>
<rect x="33" y="290" width="1" height="1" fill="#000"/>
<rect x="33" y="366" width="1" height="1" fill="#000"/>
<rect x="300" y="366" width="1" height="1" fill="#000"/>
<path d="M43.5 367V373M84.5 367V373M125.5 367V373M167.5 367V373M208.5 367V373M249.5 367V373M290.5 367V373M28 293.5H34M28 306.5H34M28 318.5H34M28 331.5H34M28 344.5H34M28 357.5H34" stroke="#000" stroke-width="1" fill="none"/>
<rect x="346.5" y="290.5" width="265" height="76" fill="none" stroke="#000" stroke-width="1"/>
<rect x="345" y="290" width="1" height="1" fill="#000"/>
<rect x="345" y="366" width="1" height="1" fill="#000"/>
<rect x="612" y="366" width="1" height="1" fill="#000"/>
<path d="M355.5 367V373M396.5 367V373M437.5 367V373M479.5 367V373M520.5 367V373M561.5 367V373M602.5 367V373M340 293.5H346M340 306.5H346M340 318.5H346M340 331.5H346M340 344.5H346M340 357.5H346" stroke="#000" stroke-width="1" fill="none"/>
<rect x="658.5" y="290.5" width="265" height="76" fill="none" stroke="#000" stroke-width="1"/>
<rect x="657" y="290" width="1" height="1" fill="#000"/>
<rect x="657" y="366" width="1" height="1" fill="#000"/>
<rect x="924" y="366" width="1" height="1" fill="#000"/>
<path d="M667.5 367V373M708.5 367V373M749.5 367V373M791.5 367V373M832.5 367V373M873.5 367V373M914.5 367V373M652 293.5H658M652 306.5H658M652 318.5H658M652 331.5H658M652 344.5H658M652 357.5H658" stroke="#000" stroke-width="1" fill="none"/>
</g>
</svg></body></html>
